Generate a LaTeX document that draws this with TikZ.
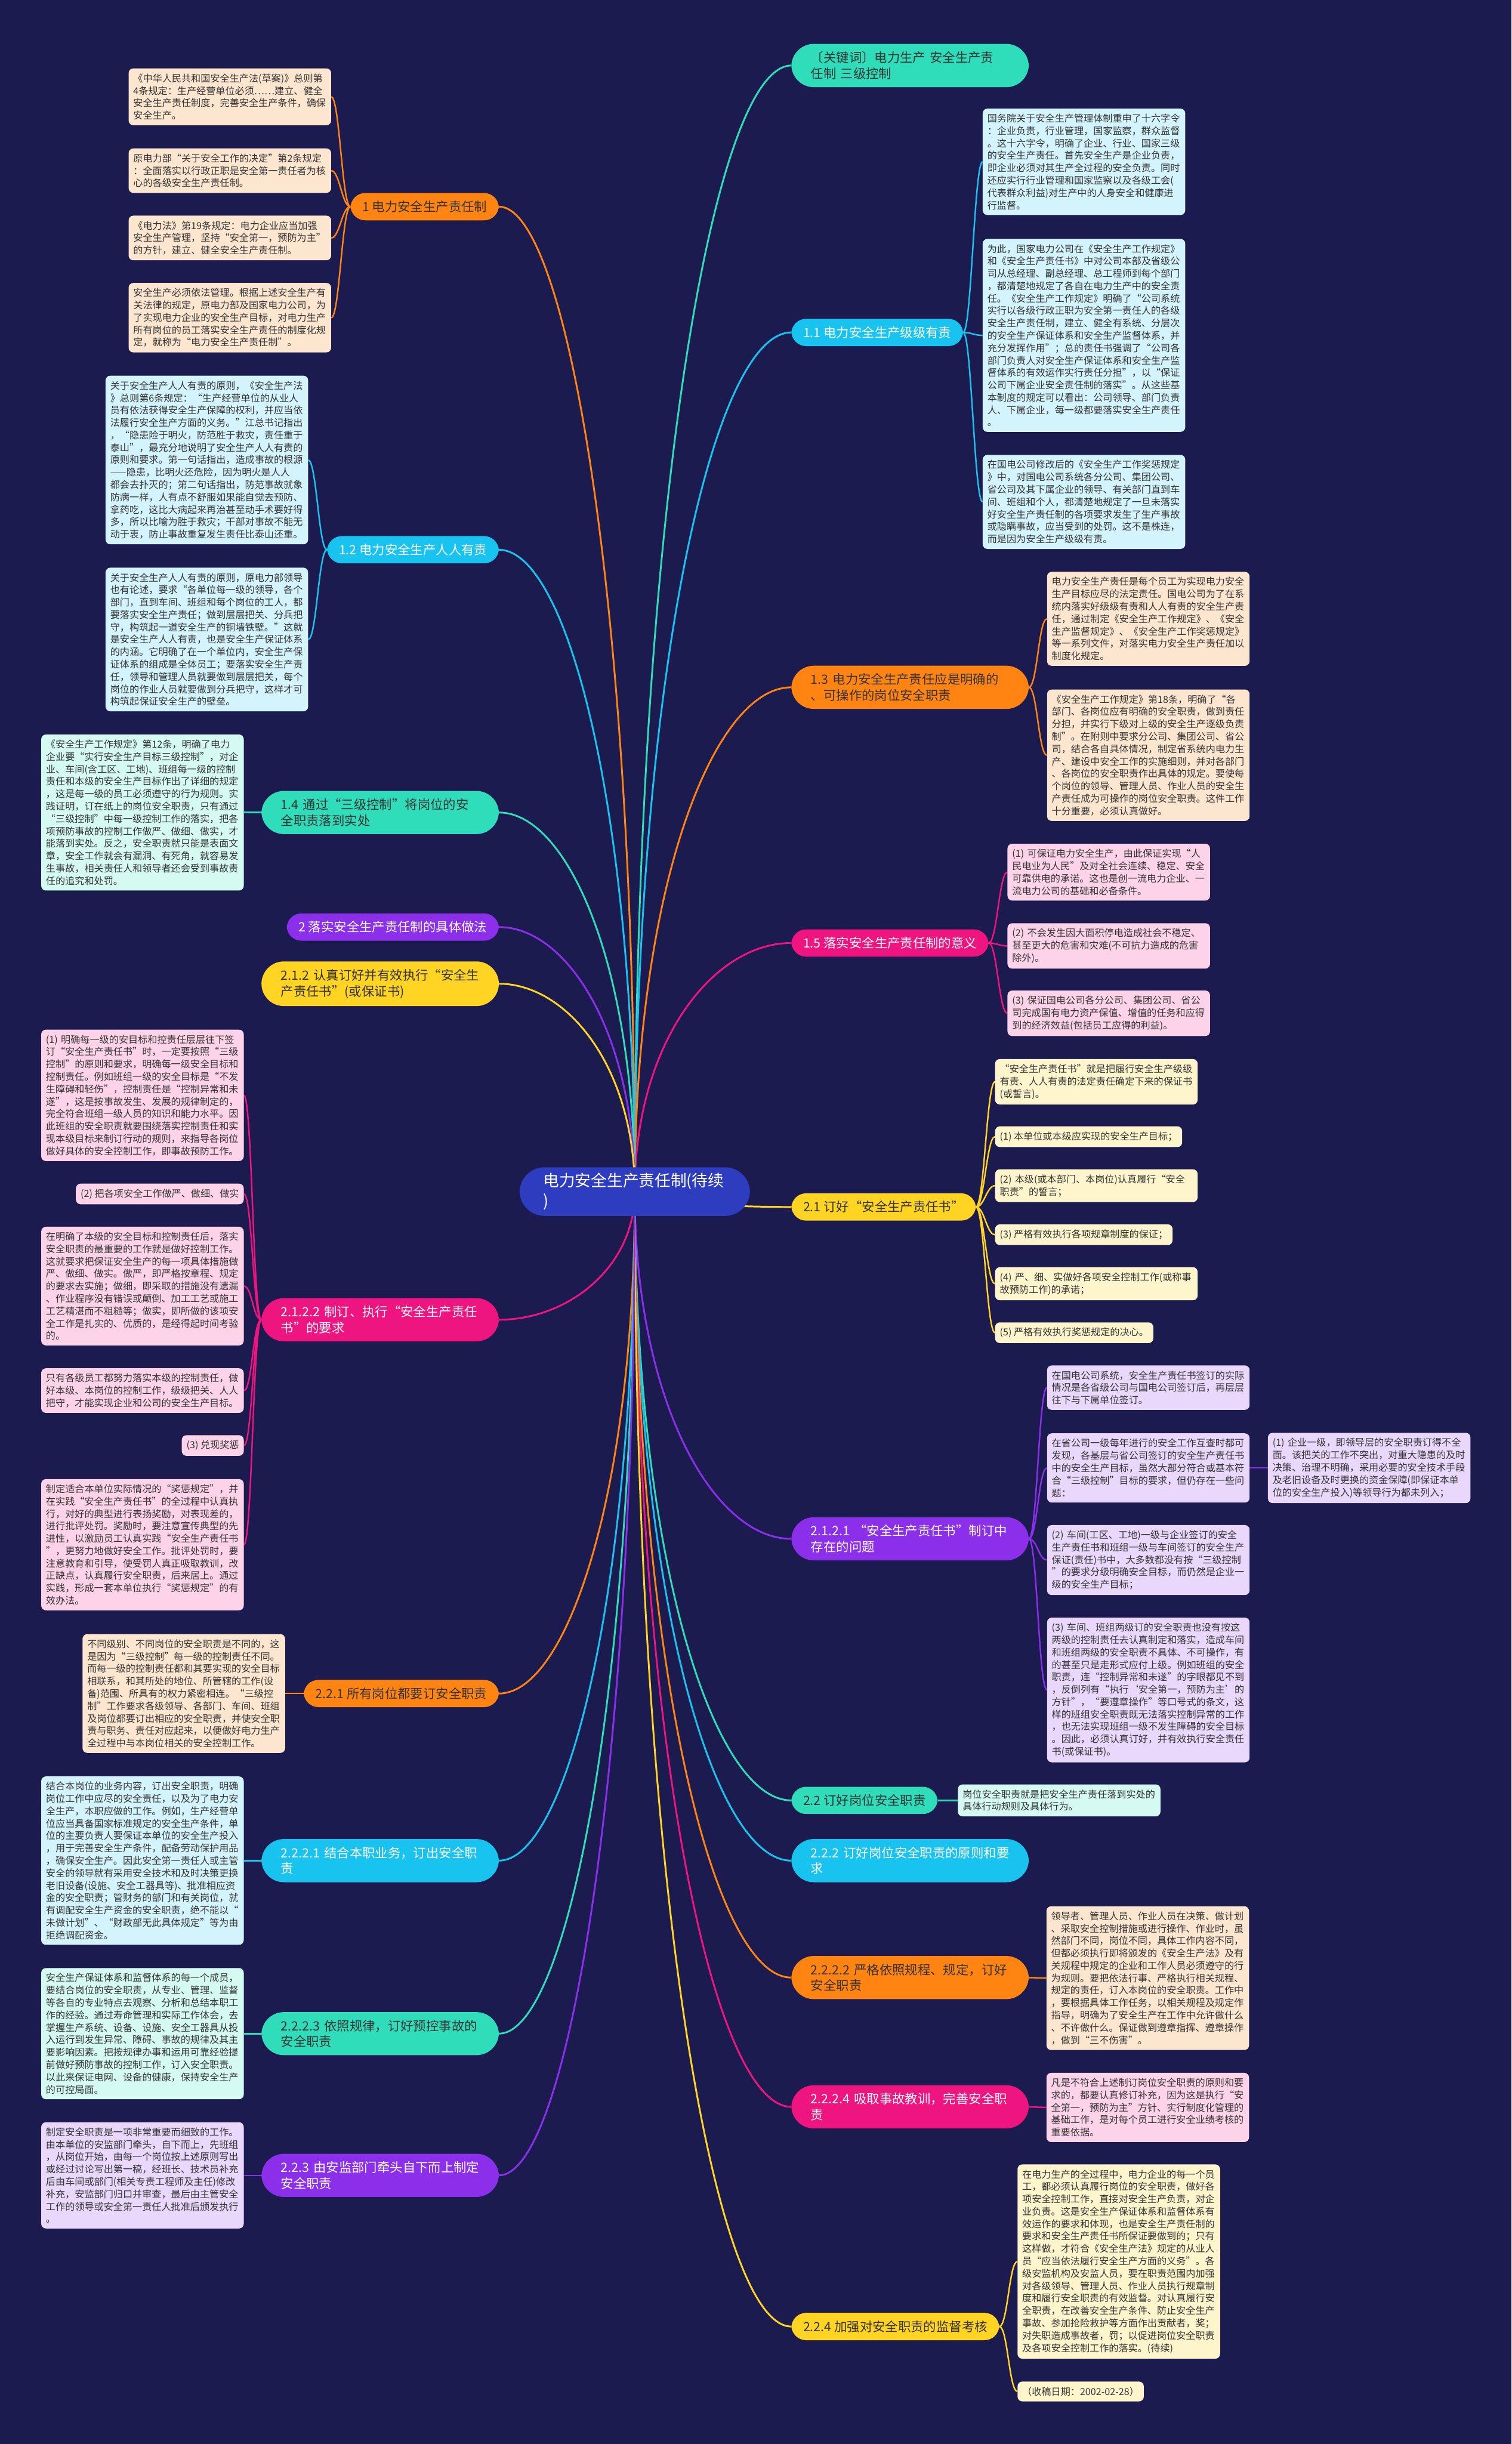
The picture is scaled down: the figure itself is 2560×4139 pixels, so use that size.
\documentclass[tikz,border=0pt]{standalone}
\usepackage{fontspec}
\setmainfont{Noto Sans CJK SC}
\usetikzlibrary{calc,backgrounds}

% colours of the map
\definecolor{bgnavy}{HTML}{1B1B4F}
\definecolor{rootblue}{HTML}{2E3DBF}
\definecolor{brorange}{HTML}{FF8412}
\definecolor{brcyan}{HTML}{19C3EF}
\definecolor{brmint}{HTML}{2FDDBB}
\definecolor{brpink}{HTML}{EE1580}
\definecolor{bryellow}{HTML}{FFD422}
\definecolor{brpurple}{HTML}{8B2FEA}
\definecolor{lforange}{HTML}{FDE6CF}
\definecolor{lfcyan}{HTML}{D3F3FD}
\definecolor{lfmint}{HTML}{D4FAF2}
\definecolor{lfpink}{HTML}{FCD3E8}
\definecolor{lfyellow}{HTML}{FFF5CC}
\definecolor{lfpurple}{HTML}{E9D7FC}
\definecolor{ink}{HTML}{333333}

\begin{document}
\begin{tikzpicture}[x=1pt, y=-1pt,
  root/.style={fill=rootblue, text=white, rounded corners=42pt, align=left, text width=310pt, inner xsep=40pt, inner ysep=10pt, font=\fontsize{27}{34}\selectfont},
  pill/.style={fill=#1, text=ink, rounded corners=25pt, inner xsep=20pt, inner ysep=13pt, font=\fontsize{21.6}{27}\selectfont},
  pilltwo/.style={pill=#1, rounded corners=38pt, align=left, text width=336pt, inner xsep=33pt},
  leaf/.style={fill=#1, text=ink, rounded corners=8pt, align=left, inner xsep=8pt, inner ysep=9pt, font=\fontsize{16.3}{21}\selectfont},
  leafw/.style={leaf=#1, text width=327pt},
  rootlink/.style={draw=#1, line width=3pt, to path={let \p1=(\tikztostart), \p2=(\tikztotarget) in .. controls (\x1,{0.4*\y1+0.6*\y2}) and ({0.5*\x1+0.5*\x2},\y2) .. (\tikztotarget)}},
  kidr/.style={draw=#1, line width=2.5pt, to path={.. controls +(14,0) and +(-14,0) .. (\tikztotarget)}},
  kidl/.style={draw=#1, line width=2.5pt, to path={.. controls +(-14,0) and +(14,0) .. (\tikztotarget)}}
]
\useasboundingbox (0,0) rectangle (2560,4139);
\begin{scope}[on background layer]
\fill[bgnavy] (0,0) rectangle (2560,4139);
\end{scope}

% Root
\node[root] (root) at (1075,2018) {电力安全生产责任制(待续\\)};

% Left side: 1
\node[pill=brorange, anchor=east] (b1) at (845,350) {1 电力安全生产责任制};
\node[leafw=lforange, anchor=east] (n1a) at (561,164) {《中华人民共和国安全生产法(草案)》总则第\\4条规定：生产经营单位必须……建立、健全\\安全生产责任制度，完善安全生产条件，确保\\安全生产。};
\node[leafw=lforange, anchor=east] (n1b) at (561,289) {原电力部“关于安全工作的决定”第2条规定\\：全面落实以行政正职是安全第一责任者为核\\心的各级安全生产责任制。};
\node[leafw=lforange, anchor=east] (n1c) at (561,403) {《电力法》第19条规定：电力企业应当加强\\安全生产管理，坚持“安全第一，预防为主”\\的方针，建立、健全安全生产责任制。};
\node[leafw=lforange, anchor=east] (n1d) at (561,538) {安全生产必须依法管理。根据上述安全生产有\\关法律的规定，原电力部及国家电力公司，为\\了实现电力企业的安全生产目标，对电力生产\\所有岗位的员工落实安全生产责任的制度化规\\定，就称为“电力安全生产责任制”。};

% Left side: 1.2
\node[pill=brcyan, text=white, anchor=east] (b12) at (845,931) {1.2 电力安全生产人人有责};
\node[leafw=lfcyan, anchor=east] (n12a) at (522,779) {关于安全生产人人有责的原则，《安全生产法\\》总则第6条规定：“生产经营单位的从业人\\员有依法获得安全生产保障的权利，并应当依\\法履行安全生产方面的义务。”江总书记指出\\，“隐患险于明火，防范胜于救灾，责任重于\\泰山”，最充分地说明了安全生产人人有责的\\原则和要求。第一句话指出，造成事故的根源\\——隐患，比明火还危险，因为明火是人人\\都会去扑灭的；第二句话指出，防范事故就象\\防病一样，人有点不舒服如果能自觉去预防、\\拿药吃，这比大病起来再治甚至动手术要好得\\多，所以比喻为胜于救灾；干部对事故不能无\\动于衷，防止事故重复发生责任比泰山还重。};
\node[leafw=lfcyan, anchor=east] (n12b) at (522,1083) {关于安全生产人人有责的原则，原电力部领导\\也有论述，要求“各单位每一级的领导，各个\\部门，直到车间、班组和每个岗位的工人，都\\要落实安全生产责任；做到层层把关、分兵把\\守，构筑起一道安全生产的铜墙铁壁。”这就\\是安全生产人人有责，也是安全生产保证体系\\的内涵。它明确了在一个单位内，安全生产保\\证体系的组成是全体员工；要落实安全生产责\\任，领导和管理人员就要做到层层把关，每个\\岗位的作业人员就要做到分兵把守，这样才可\\构筑起保证安全生产的壁垒。};

% Left side: 1.4
\node[pilltwo=brmint, anchor=east] (b14) at (845,1376) {1.4 通过“三级控制”将岗位的安\\全职责落到实处};
\node[leafw=lfmint, anchor=east] (n14) at (413,1376) {《安全生产工作规定》第12条，明确了电力\\企业要“实行安全生产目标三级控制”，对企\\业、车间(含工区、工地)、班组每一级的控制\\责任和本级的安全生产目标作出了详细的规定\\，这是每一级的员工必须遵守的行为规则。实\\践证明，订在纸上的岗位安全职责，只有通过\\“三级控制”中每一级控制工作的落实，把各\\项预防事故的控制工作做严、做细、做实，才\\能落到实处。反之，安全职责就只能是表面文\\章，安全工作就会有漏洞、有死角，就容易发\\生事故，相关责任人和领导者还会受到事故责\\任的追究和处罚。};

% Left side: 2 and 2.1.2
\node[pill=brpurple, text=white, anchor=east] (b2) at (845,1570) {2 落实安全生产责任制的具体做法};
\node[pilltwo=bryellow, anchor=east] (b212) at (845,1666) {2.1.2 认真订好并有效执行“安全生\\产责任书”(或保证书)};

% Left side: 2.1.2.2
\node[pilltwo=brpink, text=white, anchor=east] (b2122) at (845,2235) {2.1.2.2 制订、执行“安全生产责任\\书”的要求};
\node[leafw=lfpink, anchor=east] (n2122a) at (413,1855) {(1) 明确每一级的安目标和控责任层层往下签\\订“安全生产责任书”时，一定要按照“三级\\控制”的原则和要求，明确每一级安全目标和\\控制责任。例如班组一级的安全目标是“不发\\生障碍和轻伤”，控制责任是“控制异常和未\\遂”，这是按事故发生、发展的规律制定的，\\完全符合班组一级人员的知识和能力水平。因\\此班组的安全职责就要围绕落实控制责任和实\\现本级目标来制订行动的规则，来指导各岗位\\做好具体的安全控制工作，即事故预防工作。};
\node[leaf=lfpink, anchor=east] (n2122b) at (413,2022) {(2) 把各项安全工作做严、做细、做实};
\node[leafw=lfpink, anchor=east] (n2122c) at (413,2178) {在明确了本级的安全目标和控制责任后，落实\\安全职责的最重要的工作就是做好控制工作。\\这就要求把保证安全生产的每一项具体措施做\\严、做细、做实。做严，即严格按章程、规定\\的要求去实施；做细，即采取的措施没有遗漏\\、作业程序没有错误或颠倒、加工工艺或施工\\工艺精湛而不粗糙等；做实，即所做的该项安\\全工作是扎实的、优质的，是经得起时间考验\\的。};
\node[leafw=lfpink, anchor=east] (n2122d) at (413,2355) {只有各级员工都努力落实本级的控制责任，做\\好本级、本岗位的控制工作，级级把关、人人\\把守，才能实现企业和公司的安全生产目标。};
\node[leaf=lfpink, anchor=east] (n2122e) at (413,2448) {(3) 兑现奖惩};
\node[leafw=lfpink, anchor=east] (n2122f) at (413,2616) {制定适合本单位实际情况的“奖惩规定”，并\\在实践“安全生产责任书”的全过程中认真执\\行，对好的典型进行表扬奖励，对表现差的，\\进行批评处罚。奖励时，要注意宣传典型的先\\进性，以激励员工认真实践“安全生产责任书\\”，更努力地做好安全工作。批评处罚时，要\\注意教育和引导，使受罚人真正吸取教训，改\\正缺点，认真履行安全职责，后来居上。通过\\实践，形成一套本单位执行“奖惩规定”的有\\效办法。};

% Left side: 2.2.1
\node[pill=brorange, anchor=east] (b221) at (845,2868) {2.2.1 所有岗位都要订安全职责};
\node[leafw=lforange, anchor=east] (n221) at (483,2868) {不同级别、不同岗位的安全职责是不同的，这\\是因为“三级控制”每一级的控制责任不同。\\而每一级的控制责任都和其要实现的安全目标\\相联系，和其所处的地位、所管辖的工作(设\\备)范围、所具有的权力紧密相连。“三级控\\制”工作要求各级领导、各部门、车间、班组\\及岗位都要订出相应的安全职责，并使安全职\\责与职务、责任对应起来，以便做好电力生产\\全过程中与本岗位相关的安全控制工作。};

% Left side: 2.2.2.1
\node[pilltwo=brcyan, text=white, anchor=east] (b2221) at (845,3151) {2.2.2.1 结合本职业务，订出安全职\\责};
\node[leafw=lfcyan, anchor=east] (n2221) at (413,3151) {结合本岗位的业务内容，订出安全职责，明确\\岗位工作中应尽的安全责任，以及为了电力安\\全生产，本职应做的工作。例如，生产经营单\\位应当具备国家标准规定的安全生产条件，单\\位的主要负责人要保证本单位的安全生产投入\\，用于完善安全生产条件，配备劳动保护用品\\，确保安全生产。因此安全第一责任人或主管\\安全的领导就有采用安全技术和及时决策更换\\老旧设备(设施、安全工器具等)、批准相应资\\金的安全职责；管财务的部门和有关岗位，就\\有调配安全生产资金的安全职责，绝不能以“\\未做计划”、“财政部无此具体规定”等为由\\拒绝调配资金。};

% Left side: 2.2.2.3
\node[pilltwo=brmint, anchor=east] (b2223) at (845,3444) {2.2.2.3 依照规律，订好预控事故的\\安全职责};
\node[leafw=lfmint, anchor=east] (n2223) at (413,3444) {安全生产保证体系和监督体系的每一个成员，\\要结合岗位的安全职责，从专业、管理、监督\\等各自的专业特点去观察、分析和总结本职工\\作的经验。通过寿命管理和实际工作体会，去\\掌握生产系统、设备、设施、安全工器具从投\\入运行到发生异常、障碍、事故的规律及其主\\要影响因素。把按规律办事和运用可靠经验提\\前做好预防事故的控制工作，订入安全职责。\\以此来保证电网、设备的健康，保持安全生产\\的可控局面。};

% Left side: 2.2.3
\node[pilltwo=brpurple, text=white, anchor=east] (b223) at (845,3684) {2.2.3 由安监部门牵头自下而上制定\\安全职责};
\node[leafw=lfpurple, anchor=east] (n223) at (413,3684) {制定安全职责是一项非常重要而细致的工作。\\由本单位的安监部门牵头，自下而上，先班组\\，从岗位开始，由每一个岗位按上述原则写出\\或经过讨论写出第一稿，经班长、技术员补充\\后由车间或部门(相关专责工程师及主任)修改\\补充，安监部门归口并审查，最后由主管安全\\工作的领导或安全第一责任人批准后颁发执行\\。};

% Right side: keywords
\node[pilltwo=brmint, anchor=west] (bk) at (1340,111) {〔关键词〕电力生产 安全生产责\\任制 三级控制};

% Right side: 1.1
\node[pill=brcyan, text=white, anchor=west] (b11) at (1340,563) {1.1 电力安全生产级级有责};
\node[leafw=lfcyan, anchor=west] (n11a) at (1664,274) {国务院关于安全生产管理体制重申了十六字令\\：企业负责，行业管理，国家监察，群众监督\\。这十六字令，明确了企业、行业、国家三级\\的安全生产责任。首先安全生产是企业负责，\\即企业必须对其生产全过程的安全负责。同时\\还应实行行业管理和国家监察以及各级工会(\\代表群众利益)对生产中的人身安全和健康进\\行监督。};
\node[leafw=lfcyan, anchor=west] (n11b) at (1664,568) {为此，国家电力公司在《安全生产工作规定》\\和《安全生产责任书》中对公司本部及省级公\\司从总经理、副总经理、总工程师到每个部门\\，都清楚地规定了各自在电力生产中的安全责\\任。《安全生产工作规定》明确了“公司系统\\实行以各级行政正职为安全第一责任人的各级\\安全生产责任制，建立、健全有系统、分层次\\的安全生产保证体系和安全生产监督体系，并\\充分发挥作用”；总的责任书强调了“公司各\\部门负责人对安全生产保证体系和安全生产监\\督体系的有效运作实行责任分担”，以“保证\\公司下属企业安全责任制的落实”。从这些基\\本制度的规定可以看出：公司领导、部门负责\\人、下属企业，每一级都要落实安全生产责任\\。};
\node[leafw=lfcyan, anchor=west] (n11c) at (1664,850) {在国电公司修改后的《安全生产工作奖惩规定\\》中，对国电公司系统各分公司、集团公司、\\省公司及其下属企业的领导、有关部门直到车\\间、班组和个人，都清楚地规定了一旦未落实\\好安全生产责任制的各项要求发生了生产事故\\或隐瞒事故，应当受到的处罚。这不是株连，\\而是因为安全生产级级有责。};

% Right side: 1.3
\node[pilltwo=brorange, anchor=west] (b13) at (1340,1164) {1.3 电力安全生产责任应是明确的\\、可操作的岗位安全职责};
\node[leafw=lforange, anchor=west] (n13a) at (1773,1048) {电力安全生产责任是每个员工为实现电力安全\\生产目标应尽的法定责任。国电公司为了在系\\统内落实好级级有责和人人有责的安全生产责\\任，通过制定《安全生产工作规定》、《安全\\生产监督规定》、《安全生产工作奖惩规定》\\等一系列文件，对落实电力安全生产责任加以\\制度化规定。};
\node[leafw=lforange, anchor=west] (n13b) at (1773,1279) {《安全生产工作规定》第18条，明确了“各\\部门、各岗位应有明确的安全职责，做到责任\\分担，并实行下级对上级的安全生产逐级负责\\制”。在附则中要求分公司、集团公司、省公\\司，结合各自具体情况，制定省系统内电力生\\产、建设中安全工作的实施细则，并对各部门\\、各岗位的安全职责作出具体的规定。要使每\\个岗位的领导、管理人员、作业人员的安全生\\产责任成为可操作的岗位安全职责。这件工作\\十分重要，必须认真做好。};

% Right side: 1.5
\node[pill=brpink, text=white, anchor=west] (b15) at (1340,1597) {1.5 落实安全生产责任制的意义};
\node[leafw=lfpink, anchor=west] (n15a) at (1706,1477) {(1) 可保证电力安全生产，由此保证实现“人\\民电业为人民”及对全社会连续、稳定、安全\\可靠供电的承诺。这也是创一流电力企业、一\\流电力公司的基础和必备条件。};
\node[leafw=lfpink, anchor=west] (n15b) at (1706,1602) {(2) 不会发生因大面积停电造成社会不稳定、\\甚至更大的危害和灾难(不可抗力造成的危害\\除外)。};
\node[leafw=lfpink, anchor=west] (n15c) at (1706,1716) {(3) 保证国电公司各分公司、集团公司、省公\\司完成国有电力资产保值、增值的任务和应得\\到的经济效益(包括员工应得的利益)。};

% Right side: 2.1
\node[pill=bryellow, anchor=west] (b21) at (1340,2044) {2.1 订好“安全生产责任书”};
\node[leafw=lfyellow, anchor=west] (n21a) at (1685,1832) {“安全生产责任书”就是把履行安全生产级级\\有责、人人有责的法定责任确定下来的保证书\\(或誓言)。};
\node[leaf=lfyellow, anchor=west] (n21b) at (1685,1925) {(1) 本单位或本级应实现的安全生产目标；};
\node[leafw=lfyellow, anchor=west] (n21c) at (1685,2008) {(2) 本级(或本部门、本岗位)认真履行“安全\\职责”的誓言；};
\node[leaf=lfyellow, anchor=west] (n21d) at (1685,2091) {(3) 严格有效执行各项规章制度的保证；};
\node[leafw=lfyellow, anchor=west] (n21e) at (1685,2174) {(4) 严、细、实做好各项安全控制工作(或称事\\故预防工作)的承诺；};
\node[leaf=lfyellow, anchor=west] (n21f) at (1685,2257) {(5) 严格有效执行奖惩规定的决心。};

% Right side: 2.1.2.1
\node[pilltwo=brpurple, text=white, anchor=west] (b2121) at (1340,2606) {2.1.2.1 “安全生产责任书”制订中\\存在的问题};
\node[leafw=lfpurple, anchor=west] (n2121a) at (1773,2350) {在国电公司系统，安全生产责任书签订的实际\\情况是各省级公司与国电公司签订后，再层层\\往下与下属单位签订。};
\node[leafw=lfpurple, anchor=west] (n2121b) at (1773,2486) {在省公司一级每年进行的安全工作互查时都可\\发现，各基层与省公司签订的安全生产责任书\\中的安全生产目标，虽然大部分符合或基本符\\合“三级控制”目标的要求，但仍存在一些问\\题：};
\node[leafw=lfpurple, anchor=west] (n2121c) at (1773,2642) {(2) 车间(工区、工地)一级与企业签订的安全\\生产责任书和班组一级与车间签订的安全生产\\保证(责任)书中，大多数都没有按“三级控制\\”的要求分级明确安全目标，而仍然是企业一\\级的安全生产目标；};
\node[leafw=lfpurple, anchor=west] (n2121d) at (1773,2862) {(3) 车间、班组两级订的安全职责也没有按这\\两级的控制责任去认真制定和落实，造成车间\\和班组两级的安全职责不具体、不可操作，有\\的甚至只是走形式应付上级。例如班组的安全\\职责，连“控制异常和未遂”的字眼都见不到\\，反倒列有“执行‘安全第一，预防为主’的\\方针”，“要遵章操作”等口号式的条文，这\\样的班组安全职责既无法落实控制异常的工作\\，也无法实现班组一级不发生障碍的安全目标\\。因此，必须认真订好，并有效执行安全责任\\书(或保证书)。};
\node[leafw=lfpurple, anchor=west] (n2121e) at (2147,2486) {(1) 企业一级，即领导层的安全职责订得不全\\面。该把关的工作不突出，对重大隐患的及时\\决策、治理不明确，采用必要的安全技术手段\\及老旧设备及时更换的资金保障(即保证本单\\位的安全生产投入)等领导行为都未列入；};

% Right side: 2.2 and 2.2.2
\node[pill=brmint, anchor=west] (b22) at (1340,3049) {2.2 订好岗位安全职责};
\node[leafw=lfmint, anchor=west] (n22) at (1622,3049) {岗位安全职责就是把安全生产责任落到实处的\\具体行动规则及具体行为。};
\node[pilltwo=brcyan, text=white, anchor=west] (b222) at (1340,3151) {2.2.2 订好岗位安全职责的原则和要\\求};

% Right side: 2.2.2.2
\node[pilltwo=brorange, anchor=west] (b2222) at (1340,3349) {2.2.2.2 严格依照规程、规定，订好\\安全职责};
\node[leafw=lforange, anchor=west] (n2222) at (1772,3350) {领导者、管理人员、作业人员在决策、做计划\\、采取安全控制措施或进行操作、作业时，虽\\然部门不同，岗位不同，具体工作内容不同，\\但都必须执行即将颁发的《安全生产法》及有\\关规程中规定的企业和工作人员必须遵守的行\\为规则。要把依法行事、严格执行相关规程、\\规定的责任，订入本岗位的安全职责。工作中\\，要根据具体工作任务，以相关规程及规定作\\指导，明确为了安全生产在工作中允许做什么\\、不许做什么。保证做到遵章指挥、遵章操作\\，做到“三不伤害”。};

% Right side: 2.2.2.4
\node[pilltwo=brpink, text=white, anchor=west] (b2224) at (1340,3568) {2.2.2.4 吸取事故教训，完善安全职\\责};
\node[leafw=lfpink, anchor=west] (n2224) at (1772,3569) {凡是不符合上述制订岗位安全职责的原则和要\\求的，都要认真修订补充，因为这是执行“安\\全第一，预防为主”方针、实行制度化管理的\\基础工作，是对每个员工进行安全业绩考核的\\重要依据。};

% Right side: 2.2.4
\node[pill=bryellow, anchor=west] (b224) at (1340,3940) {2.2.4 加强对安全职责的监督考核};
\node[leafw=lfyellow, anchor=west] (n224a) at (1723,3830) {在电力生产的全过程中，电力企业的每一个员\\工，都必须认真履行岗位的安全职责，做好各\\项安全控制工作，直接对安全生产负责，对企\\业负责。这是安全生产保证体系和监督体系有\\效运作的要求和体现，也是安全生产责任制的\\要求和安全生产责任书所保证要做到的；只有\\这样做，才符合《安全生产法》规定的从业人\\员“应当依法履行安全生产方面的义务”。各\\级安监机构及安监人员，要在职责范围内加强\\对各级领导、管理人员、作业人员执行规章制\\度和履行安全职责的有效监督。对认真履行安\\全职责，在改善安全生产条件、防止安全生产\\事故、参加抢险救护等方面作出贡献者，奖；\\对失职造成事故者，罚；以促进岗位安全职责\\及各项安全控制工作的落实。(待续)};
\node[leaf=lfyellow, anchor=west] (n224b) at (1723,4050) {（收稿日期：2002-02-28）};

% Connectors
\begin{scope}[on background layer]
% root to branches
\draw[rootlink=brmint] (root.center) to (bk.west);
\draw[rootlink=brcyan] (root.center) to (b11.west);
\draw[rootlink=brorange] (root.center) to (b13.west);
\draw[rootlink=brpink] (root.center) to (b15.west);
\draw[rootlink=bryellow] (root.center) to (b21.west);
\draw[rootlink=brpurple] (root.center) to (b2121.west);
\draw[rootlink=brmint] (root.center) to (b22.west);
\draw[rootlink=brcyan] (root.center) to (b222.west);
\draw[rootlink=brorange] (root.center) to (b2222.west);
\draw[rootlink=brpink] (root.center) to (b2224.west);
\draw[rootlink=bryellow] (root.center) to (b224.west);
\draw[rootlink=brorange] (root.center) to (b1.east);
\draw[rootlink=brcyan] (root.center) to (b12.east);
\draw[rootlink=brmint] (root.center) to (b14.east);
\draw[rootlink=brpurple] (root.center) to (b2.east);
\draw[rootlink=bryellow] (root.center) to (b212.east);
\draw[rootlink=brpink] (root.center) to (b2122.east);
\draw[rootlink=brorange] (root.center) to (b221.east);
\draw[rootlink=brcyan] (root.center) to (b2221.east);
\draw[rootlink=brmint] (root.center) to (b2223.east);
\draw[rootlink=brpurple] (root.center) to (b223.east);
% branches to notes, left
\draw[kidl=brorange] (b1.west) to (n1a.east) (b1.west) to (n1b.east) (b1.west) to (n1c.east) (b1.west) to (n1d.east);
\draw[kidl=brcyan] (b12.west) to (n12a.east) (b12.west) to (n12b.east);
\draw[kidl=brmint] (b14.west) to (n14.east);
\draw[kidl=brpink] (b2122.west) to (n2122a.east) (b2122.west) to (n2122b.east) (b2122.west) to (n2122c.east) (b2122.west) to (n2122d.east) (b2122.west) to (n2122e.east) (b2122.west) to (n2122f.east);
\draw[kidl=brorange] (b221.west) to (n221.east);
\draw[kidl=brcyan] (b2221.west) to (n2221.east);
\draw[kidl=brmint] (b2223.west) to (n2223.east);
\draw[kidl=brpurple] (b223.west) to (n223.east);
% branches to notes, right
\draw[kidr=brcyan] (b11.east) to (n11a.west) (b11.east) to (n11b.west) (b11.east) to (n11c.west);
\draw[kidr=brorange] (b13.east) to (n13a.west) (b13.east) to (n13b.west);
\draw[kidr=brpink] (b15.east) to (n15a.west) (b15.east) to (n15b.west) (b15.east) to (n15c.west);
\draw[kidr=bryellow] (b21.east) to (n21a.west) (b21.east) to (n21b.west) (b21.east) to (n21c.west) (b21.east) to (n21d.west) (b21.east) to (n21e.west) (b21.east) to (n21f.west);
\draw[kidr=brpurple] (b2121.east) to (n2121a.west) (b2121.east) to (n2121b.west) (b2121.east) to (n2121c.west) (b2121.east) to (n2121d.west);
\draw[kidr=brpurple] (n2121b.east) to (n2121e.west);
\draw[kidr=brmint] (b22.east) to (n22.west);
\draw[kidr=brorange] (b2222.east) to (n2222.west);
\draw[kidr=brpink] (b2224.east) to (n2224.west);
\draw[kidr=bryellow] (b224.east) to (n224a.west) (b224.east) to (n224b.west);
\end{scope}
\end{tikzpicture}
\end{document}
